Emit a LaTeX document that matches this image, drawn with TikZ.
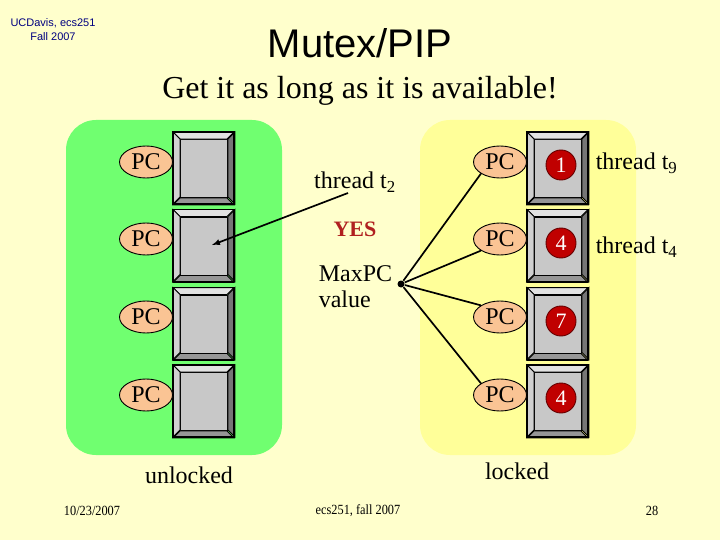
\documentclass[tikz,border=0pt]{standalone}
\usepackage{fontspec}
\setmainfont{Liberation Serif}
\newfontfamily\arialfont{Liberation Sans}
\usetikzlibrary{shapes.geometric,arrows}
\definecolor{slidebg}{RGB}{255,255,204}
\definecolor{freegreen}{RGB}{112,255,112}
\definecolor{heldyellow}{RGB}{255,255,153}
\definecolor{pcpeach}{RGB}{250,196,148}
\definecolor{facegray}{RGB}{200,200,200}
\definecolor{bevlight}{RGB}{226,226,226}
\definecolor{bevmid}{RGB}{150,150,150}
\definecolor{bevdark}{RGB}{118,118,118}
\definecolor{prioRed}{RGB}{192,0,0}
\definecolor{yesred}{RGB}{176,32,32}
\definecolor{navytext}{RGB}{0,0,128}
% one bevelled lock slot: name, centre x, centre y
\newcommand{\keyslot}[3]{%
  \node[keyface] (#1) at (#2,#3) {};
  \filldraw[fill=bevlight] (#1.north west) -- ++(-7,-7) -- ++(61,0) -- ++(-7,7) -- cycle;
  \filldraw[fill=bevlight!92!black] (#1.north west) -- ++(-7,-7) -- ++(0,72) -- ++(7,-7) -- cycle;
  \filldraw[fill=bevdark] (#1.north east) -- ++(7,-7) -- ++(0,72) -- ++(-7,-7) -- cycle;
  \filldraw[fill=bevmid] (#1.south west) -- ++(-7,7) -- ++(61,0) -- ++(-7,-7) -- cycle;
  \draw[line width=1.8pt] (#1.north west) ++(-7,-7) rectangle ++(61,72);
}
\newcommand{\foottext}[1]{\scalebox{0.88}[1]{#1}}
\begin{document}
\begin{tikzpicture}[x=1pt,y=-1pt,line width=0.9pt,
    keyface/.style={draw,fill=facegray,minimum width=47pt,minimum height=58pt,inner sep=0pt},
    pc/.style={ellipse,draw,fill=pcpeach,minimum width=53pt,minimum height=32pt,inner sep=0pt,
      font=\fontsize{24}{24}\selectfont},
    prio/.style={circle,draw=black!60!red,fill=prioRed,minimum size=30pt,inner sep=0pt,
      text=white,font=\fontsize{22}{22}\selectfont},
    big/.style={font=\fontsize{24}{26}\selectfont},
    foot/.style={font=\fontsize{14}{14}\selectfont},
    wire/.style={line width=1.7pt}]
  \useasboundingbox[fill=slidebg] (0,0) rectangle (720,540);
  % Header:
  \node[navytext,align=center,font=\arialfont\fontsize{11}{14}\selectfont] (inst) at (53,30) {UCDavis, ecs251\\Fall 2007};
  \node[anchor=base,font=\arialfont\fontsize{40}{40}\selectfont] (title) at (360,58) {Mutex/PIP};
  \node[anchor=base,font=\fontsize{32}{32}\selectfont] (sub) at (360,99) {Get it as long as it is available!};
  %
  % Mutex pools:
  \fill[freegreen,rounded corners=30pt] (66,120) rectangle (282,455);
  \fill[heldyellow,rounded corners=30pt] (420,120) rectangle (636,455);
  %
  \keyslot{L1}{204}{168.5}
  \keyslot{L2}{204}{246}
  \keyslot{L3}{204}{324}
  \keyslot{L4}{204}{401.5}
  \keyslot{R1}{558}{168.5}
  \keyslot{R2}{558}{246}
  \keyslot{R3}{558}{324}
  \keyslot{R4}{558}{401.5}
  %
  \node[pc] (pcL1) at (146,162) {PC};
  \node[pc] (pcL2) at (146,239) {PC};
  \node[pc] (pcL3) at (146,317) {PC};
  \node[pc] (pcL4) at (146,395) {PC};
  \node[pc] (pcR1) at (500,162) {PC};
  \node[pc] (pcR2) at (500,239) {PC};
  \node[pc] (pcR3) at (500,317) {PC};
  \node[pc] (pcR4) at (500,395) {PC};
  %
  \node[prio] (p1) at (561,165) {1};
  \node[prio] (p2) at (561,243) {4};
  \node[prio] (p3) at (561,321) {7};
  \node[prio] (p4) at (561,398) {4};
  %
  % Labels:
  \node[big] (thr2) at (355,182) {thread t\textsubscript{2}};
  \node[text=yesred,font=\bfseries\fontsize{22}{22}\selectfont] (yes) at (355,229) {YES};
  \node[big,align=left,anchor=west] (maxpc) at (315,287) {MaxPC\\value};
  \node[big,anchor=west] (thr9) at (592,163) {thread t\textsubscript{9}};
  \node[big,anchor=west] (thr4) at (592,247) {thread t\textsubscript{4}};
  \node[big] (unl) at (189,475) {unlocked};
  \node[big] (lck) at (517,471) {locked};
  %
  % Edges:
  \coordinate (t2tail) at (348,193);
  \coordinate (t2head) at (212,245);
  \draw[wire,-latex] (t2tail) -- (t2head);
  \node[circle,fill,inner sep=0pt,minimum size=7pt] (hub) at (401,284) {};
  \draw[wire] (hub) -- (pcR1.south west);
  \draw[wire] (hub) -- (pcR2.south west);
  \draw[wire] (hub) -- (pcR3.north west);
  \draw[wire] (hub) -- (pcR4.north west);
  %
  % Footer:
  \node[foot] (date) at (92,511) {\foottext{10/23/2007}};
  \node[foot] (course) at (358,511) {\foottext{ecs251, fall 2007}};
  \node[foot] (page) at (652,511) {\foottext{28}};
\end{tikzpicture}
\end{document}
